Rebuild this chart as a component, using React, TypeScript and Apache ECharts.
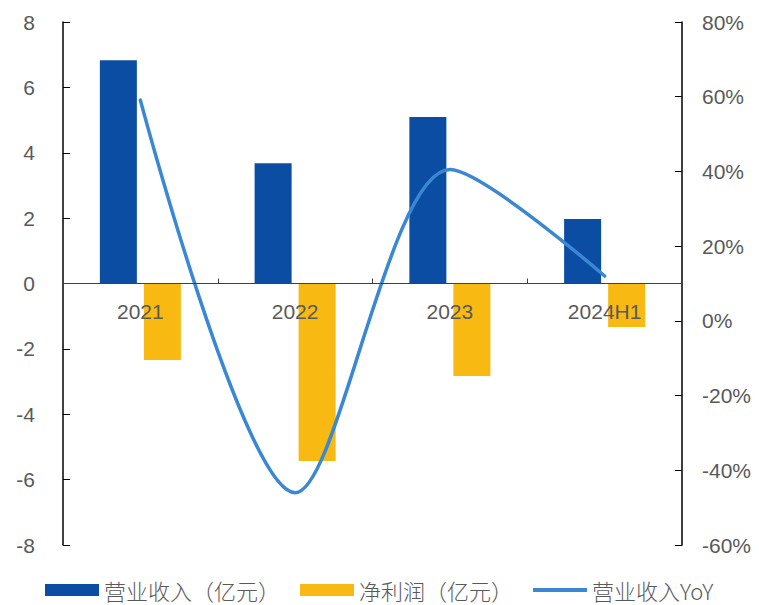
import React, { useEffect, useRef } from "react";
import * as echarts from "echarts";

const categories = ["2021", "2022", "2023", "2024H1"];
const revenue = [6.83, 3.68, 5.09, 1.97];
const netProfit = [-2.34, -5.43, -2.83, -1.33];
const revenueYoY = [59.1, -46, 40.5, 12.0];

const LABEL_FONT = "'Liberation Sans', Arial, sans-serif";
const CJK_FONT = "'Noto Sans CJK SC', sans-serif";

export default function App() {
  const ref = useRef<HTMLDivElement>(null);
  useEffect(() => {
    if (!ref.current) return;
    const chart = echarts.init(ref.current, null, { renderer: "svg" });
    const gridTop = 22;
    const gridBottom = 60;
    const gridHeight = 605 - gridTop - gridBottom;
    chart.setOption({
      animation: false,
      grid: { left: 63, right: 77, top: gridTop, bottom: gridBottom, containLabel: false },
      legend: {
        top: 578,
        left: 45,
        padding: 0,
        itemWidth: 54,
        itemHeight: 12,
        itemGap: 20,
        textStyle: {
          fontFamily: CJK_FONT,
          fontSize: 22,
          lineHeight: 24,
          color: "#595959",
          fontWeight: 300,
        },
        data: [
          { name: "营业收入（亿元）", icon: "rect" },
          { name: "净利润（亿元）", icon: "rect" },
          { name: "营业收入YoY", icon: "path://M0,0 H55 V4 H0 Z" },
        ],
      },
      xAxis: {
        type: "category",
        data: categories,
        z: 10,
        offset: -gridHeight / 2,
        axisLine: { onZero: false, lineStyle: { color: "#404040", width: 1 } },
        axisTick: { show: true, inside: true, length: 5, lineStyle: { color: "#404040" } },
        axisLabel: { fontFamily: LABEL_FONT, fontSize: 21, color: "#595959", margin: 17 },
        splitLine: { show: false },
      },
      yAxis: [
        {
          type: "value",
          min: -8,
          max: 8,
          interval: 2,
          axisLine: { show: true, onZero: false, lineStyle: { color: "#000", width: 1.5 } },
          axisTick: { show: true, inside: true, length: 7, lineStyle: { color: "#000" } },
          axisLabel: { fontFamily: LABEL_FONT, fontSize: 21, color: "#595959", margin: 28 },
          splitLine: { show: false },
        },
        {
          type: "value",
          min: -60,
          max: 80,
          interval: 20,
          position: "right",
          axisLine: { show: true, onZero: false, lineStyle: { color: "#000", width: 1.5 } },
          axisTick: { show: true, inside: true, length: 7, lineStyle: { color: "#000" } },
          axisLabel: {
            fontFamily: LABEL_FONT,
            fontSize: 21,
            color: "#595959",
            margin: 20,
            formatter: "{value}%",
          },
          splitLine: { show: false },
        },
      ],
      series: [
        {
          name: "营业收入（亿元）",
          type: "bar",
          data: revenue,
          barWidth: 37,
          barGap: "19%",
          itemStyle: { color: "#0B4DA2" },
        },
        {
          name: "净利润（亿元）",
          type: "bar",
          data: netProfit,
          barWidth: 37,
          barGap: "19%",
          itemStyle: { color: "#F9B913" },
        },
        {
          name: "营业收入YoY",
          type: "line",
          yAxisIndex: 1,
          data: revenueYoY,
          smooth: 0.3,
          symbol: "none",
          z: 5,
          lineStyle: { color: "#3A88D4", width: 3.5, cap: "round" },
          itemStyle: { color: "#3A88D4" },
        },
      ],
    });
    return () => chart.dispose();
  }, []);
  return (
    <div
      ref={ref}
      style={{ position: "absolute", left: 0, top: 0, width: 759, height: 605 }}
    />
  );
}
